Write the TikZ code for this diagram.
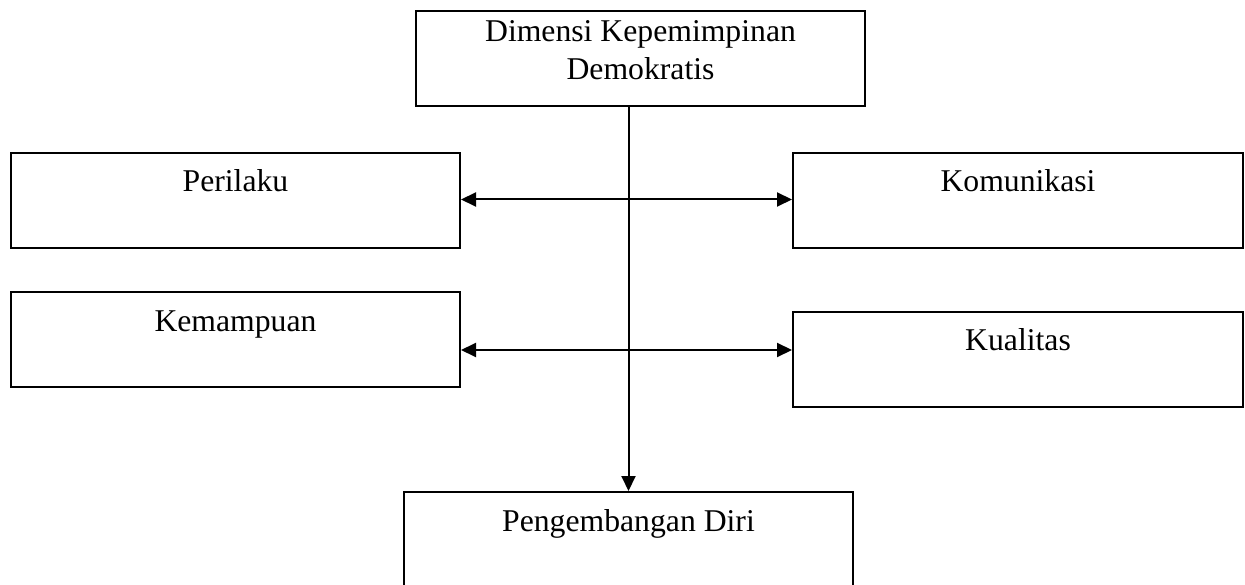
\documentclass[tikz,border=0pt]{standalone}
\usepackage{fontspec}
\setmainfont{Liberation Serif}
\usetikzlibrary{arrows.meta,calc}
\begin{document}
\begin{tikzpicture}[x=1pt,y=1pt,
  box/.style={draw=black,line width=2pt,rectangle,inner sep=0pt,minimum width=449pt,minimum height=95pt},
  txt/.style={anchor=base,inner sep=0pt,font=\fontsize{31.7}{37}\selectfont},
  conn/.style={line width=2pt},
  tip/.style={-{Triangle[length=15pt,width=14pt]}},
  dtip/.style={{Triangle[length=15pt,width=14pt]}-{Triangle[length=15pt,width=14pt]}}]
\clip (0,0) rectangle (1245,-585);
\useasboundingbox (0,0) rectangle (1245,-585);
% boxes
\node[box] (top) at (640.5,-58.5) {};
\node[box] (perilaku) at (235.5,-200.5) {};
\node[box,minimum width=450pt] (komunikasi) at (1018,-200.5) {};
\node[box] (kemampuan) at (235.5,-339.5) {};
\node[box,minimum width=450pt] (kualitas) at (1018,-359.5) {};
\node[box,minimum height=110pt] (pd) at (628.5,-547) {};
% texts
\node[txt] at ([yshift=-32pt]top.north) {Dimensi Kepemimpinan};
\node[txt] at ([yshift=-70pt]top.north) {Demokratis};
\node[txt] at ([yshift=-40pt]perilaku.north) {Perilaku};
\node[txt] at ([yshift=-40pt]komunikasi.north) {Komunikasi};
\node[txt] at ([yshift=-40pt]kemampuan.north) {Kemampuan};
\node[txt] at ([yshift=-40pt]kualitas.north) {Kualitas};
\node[txt] at ([yshift=-40pt]pd.north) {Pengembangan Diri};
% connectors
\coordinate (m1) at (627,-199.5);
\coordinate (m2) at (627,-350);
\draw[conn,tip] (top.south -| pd.north) -- (pd.north);
\draw[conn,dtip] (perilaku.east |- m1) -- (komunikasi.west |- m1);
\draw[conn,dtip] (kemampuan.east |- m2) -- (kualitas.west |- m2);
\end{tikzpicture}
\end{document}
